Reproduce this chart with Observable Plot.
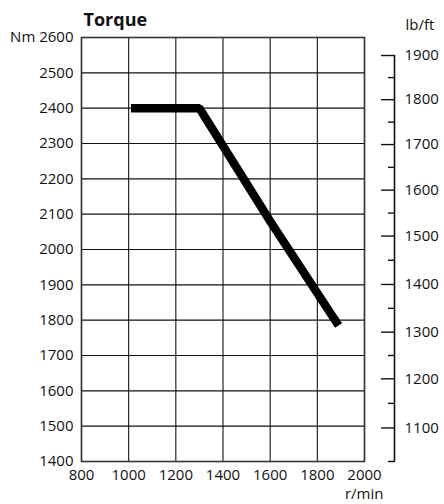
<!DOCTYPE html>
<html>
<head>
<meta charset="utf-8">
<script src="https://cdn.jsdelivr.net/npm/d3@7"></script>
<script src="https://cdn.jsdelivr.net/npm/@observablehq/plot@0.6"></script>
<style>
  html, body { margin: 0; padding: 0; background: #fff; }
</style>
</head>
<body>
<div id="chart"></div>
<script>
// Torque curve (engine speed r/min vs torque Nm)
const rpm = [1010, 1300, 1600, 1890];
const torqueNm = [2400, 2400, 2080, 1785];

// Axis ticks
const xTicks = [800, 1000, 1200, 1400, 1600, 1800, 2000];
const yTicks = [1400, 1500, 1600, 1700, 1800, 1900, 2000, 2100, 2200, 2300, 2400, 2500, 2600];

// Secondary lb/ft scale: labels and where they sit on the Nm scale
const lbftLabels = [1900, 1800, 1700, 1600, 1500, 1400, 1300, 1200, 1100];
const lbftAtNm = [2549, 2424, 2297, 2168, 2038, 1901, 1766, 1634, 1495];

const title = "Torque";
const xUnit = "r/min";
const yUnit = "Nm";
const y2Unit = "lb/ft";

const curve = rpm.map((r, i) => ({rpm: r, nm: torqueNm[i]}));
const minorAtNm = lbftAtNm.slice(1).map((v, i) => (v + lbftAtNm[i]) / 2).concat([1400]);

const chart = Plot.plot({
  width: 444,
  height: 504,
  marginLeft: 81,
  marginRight: 80,
  marginTop: 37,
  marginBottom: 43,
  style: {fontFamily: "'Open Sans', sans-serif", fontSize: "15px", background: "#fff", color: "#111"},
  x: {domain: [800, 2000]},
  y: {domain: [1400, 2600]},
  marks: [
    Plot.gridX(xTicks, {stroke: "#111", strokeOpacity: 1, strokeWidth: 1.1}),
    Plot.gridY(yTicks, {stroke: "#111", strokeOpacity: 1, strokeWidth: 1.1}),
    Plot.frame({stroke: "#333", strokeWidth: 1.6}),
    Plot.axisX(xTicks, {tickSize: 0, tickPadding: 8, label: null, tickFormat: d => String(d)}),
    Plot.axisY(yTicks, {tickSize: 0, tickPadding: 8, label: null,
      tickFormat: d => d === 2600 ? `${yUnit} ${d}` : String(d)}),
    Plot.axisY(lbftAtNm, {anchor: "right", tickSize: 14, dx: 16, tickPadding: 10, label: null,
      stroke: "#111", strokeWidth: 1.4,
      tickFormat: d => String(lbftLabels[lbftAtNm.indexOf(d)])}),
    Plot.axisY(minorAtNm, {anchor: "right", tickSize: 7, dx: 23, label: null, text: null,
      stroke: "#111", strokeWidth: 1.4, tickFormat: () => ""}),
    Plot.ruleX([2000], {y1: lbftAtNm[0], y2: 1400, dx: 30, stroke: "#111", strokeWidth: 1.6}),
    Plot.line(curve, {x: "rpm", y: "nm", stroke: "#000", strokeWidth: 8.5,
      strokeLinejoin: "miter", strokeLinecap: "butt"}),
    Plot.text([title], {x: () => 800, y: () => 2600, text: d => d, dx: 2, dy: -17,
      textAnchor: "start", fontWeight: "bold", fontSize: 18}),
    Plot.text([y2Unit], {x: () => 2000, y: () => 2600, text: d => d, dx: 41, dy: -12,
      textAnchor: "start", fontSize: 15}),
    Plot.text([xUnit], {x: () => 2000, y: () => 1400, text: d => d, dx: 19, dy: 33,
      textAnchor: "end", fontSize: 15})
  ]
});
document.getElementById("chart").appendChild(chart);
</script>
</body>
</html>
